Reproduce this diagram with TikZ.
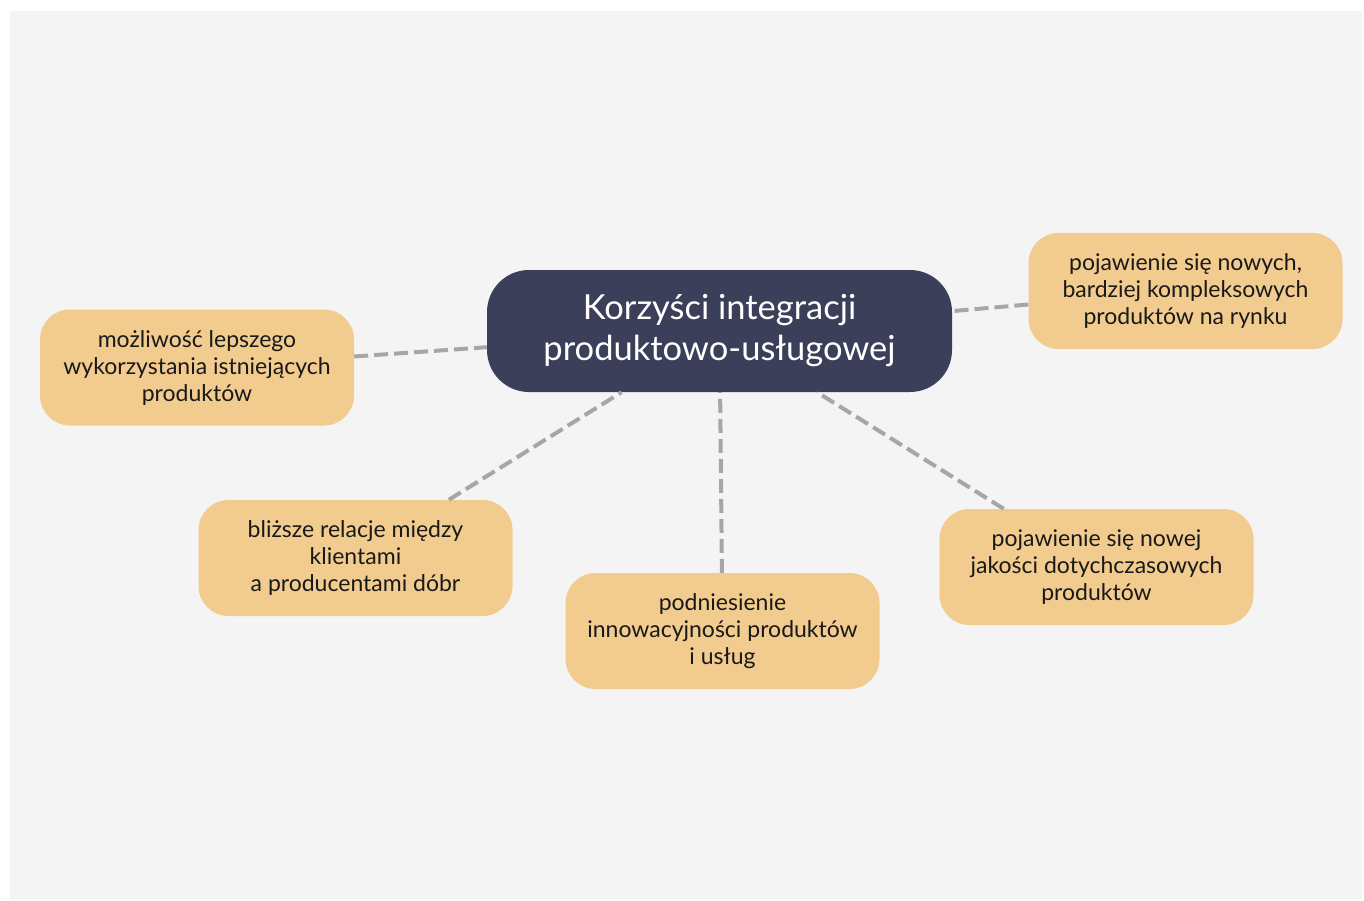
\documentclass[tikz,border=0pt]{standalone}
\usepackage{fontspec}
\setmainfont{Lato}
\usepackage{tikz}
\usepackage{xcolor}
\definecolor{backgray}{HTML}{F4F4F4}
\definecolor{navy}{HTML}{3C3F5A}
\definecolor{sand}{HTML}{F2CC8F}
\definecolor{linkgray}{HTML}{A6A6A6}
\tikzset{
    main-box/.style = {fill=navy, text=white, rectangle, rounded corners=42pt, inner sep=0pt,
        minimum width=465pt, minimum height=122pt, align=center, font=\fontsize{34.5}{41}\selectfont},
    idea-box/.style = {fill=sand, text=black!90, rectangle, rounded corners=30pt, inner sep=0pt,
        minimum width=314pt, minimum height=116pt, align=center, font=\fontsize{23}{27}\selectfont},
    link/.style = {draw=linkgray, line width=4pt, dash pattern=on 14pt off 6pt},
}

\begin{document}
\begin{tikzpicture}[x=1pt, y=-1pt]
\useasboundingbox (0,0) rectangle (1364,901);
\fill[backgray] (10,11) rectangle (1362,899);

\node[main-box] (main) at (719.5,331) {Korzyści integracji\\produktowo-usługowej};

\node[idea-box] (use) at (197,367.5) {możliwość lepszego\\wykorzystania istniejących\\produktów};
\node[idea-box] (rel) at (355.5,558) {bliższe relacje między\\klientami\\a producentami dóbr};
\node[idea-box] (inno) at (722.5,631) {podniesienie\\innowacyjności produktów\\i usług};
\node[idea-box] (qual) at (1096.5,567) {pojawienie się nowej\\jakości dotychczasowych\\produktów};
\node[idea-box] (new) at (1185.5,291) {pojawienie się nowych,\\bardziej kompleksowych\\produktów na rynku};

% connectors
\draw[link] (use) -- (main);
\draw[link] (rel) -- (main);
\draw[link] (inno) -- (main);
\draw[link] (qual) -- (main);
\draw[link] (new) -- (main);
\end{tikzpicture}
\end{document}
